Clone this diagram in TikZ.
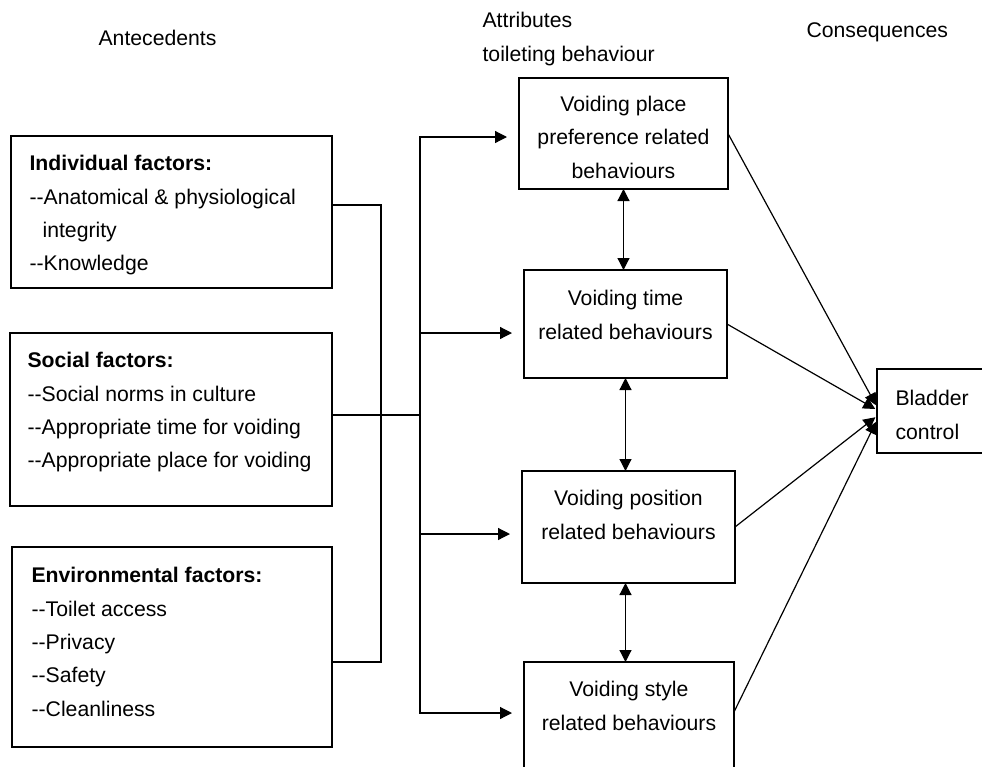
\documentclass[tikz,border=0pt]{standalone}
\usepackage{fontspec}
\newfontfamily\arial{Liberation Sans}
\usetikzlibrary{arrows.meta,positioning}

\begin{document}
\begin{tikzpicture}[
  x=0.5pt,y=-0.5pt,
  line width=0.6pt,
  box/.style={draw,inner sep=0pt,outer sep=0pt},
  txt/.style={inner sep=0pt,font=\arial\fontsize{10.6pt}{16.65pt}\selectfont},
  lft/.style={txt,anchor=north west,align=left},
  ctr/.style={txt,anchor=north,align=center},
  arr/.style={-{Triangle[length=6pt,width=6pt]},shorten >=6pt},
  dbl/.style={{Triangle[length=6pt,width=6pt]}-{Triangle[length=6pt,width=6pt]}}]
\clip (0,0) rectangle (982,767);
% column titles
\node[txt,anchor=base west] (ante) at (98,45) {Antecedents};
\node[lft] (attr) at (482,12) {Attributes\\toileting behaviour};
\node[txt,anchor=base west] (cons) at (806,37) {Consequences};
% antecedents
\node[box,minimum width=160.5pt,minimum height=76pt] (ind) at (171.5,212) {};
\node[box,minimum width=161pt,minimum height=86.5pt] (soc) at (171,419.5) {};
\node[box,minimum width=160pt,minimum height=100pt] (env) at (172,647) {};
\node[lft] (ind-t) at (29,155) {\textbf{Individual factors:}\\--Anatomical \& physiological\\\hspace*{6.5pt}integrity\\--Knowledge};
\node[lft] (soc-t) at (27,352) {\textbf{Social factors:}\\--Social norms in culture\\--Appropriate time for voiding\\--Appropriate place for voiding};
\node[lft] (env-t) at (31,567) {\textbf{Environmental factors:}\\--Toilet access\\--Privacy\\--Safety\\--Cleanliness};
% toileting behaviour
\node[box,minimum width=104.5pt,minimum height=55.5pt] (place) at (623.5,133.5) {};
\node[box,minimum width=101.5pt,minimum height=54pt] (time) at (625.5,324) {};
\node[box,minimum width=106.5pt,minimum height=56pt] (pos) at (628.5,527) {};
\node[box,minimum width=105pt,minimum height=55pt] (sty) at (629,717) {};
\node[ctr] (place-t) at (623.5,95.5) {Voiding place\\preference related\\behaviours};
\node[ctr] (time-t) at (625.5,290) {Voiding time\\related behaviours};
\node[ctr] (pos-t) at (628.5,490) {Voiding position\\related behaviours};
\node[ctr] (sty-t) at (629,681) {Voiding style\\related behaviours};
% consequence
\node[box,minimum width=61.5pt,minimum height=42pt] (bl) at (938.5,411) {};
\node[lft] (bl-t) at (895,390) {Bladder\\control};
% antecedents -> bus
\coordinate (join) at (381,415);
\coordinate (bus) at (420,415);
\draw ([yshift=3.5pt]ind.east) -| (join) |- ([yshift=-7.5pt]env.east);
\draw (soc.east |- bus) -- (bus);
\draw[arr] (bus) |- ([yshift=-1.75pt]place.west);
\draw[arr] (bus) |- ([yshift=-4.5pt]time.west);
\draw[arr] (bus) |- ([yshift=-3.5pt]pos.west);
\draw[arr] (bus) |- ([yshift=2pt]sty.west);
% between behaviours
\draw[dbl] (place.south) -- (place.south |- time.north);
\draw[dbl] (time.south) -- (time.south |- pos.north);
\draw[dbl] ([xshift=-1.5pt]pos.south) -- ([xshift=-1.5pt]pos.south |- sty.north);
% behaviours -> bladder control
\draw[arr,shorten >=1pt] (place.east) -- ([yshift=2pt]bl.west);
\draw[arr,shorten >=1pt] (time.east) -- ([yshift=0.5pt]bl.west);
\draw[arr,shorten >=1pt] (pos.east) -- ([yshift=-2.5pt]bl.west);
\draw[arr,shorten >=1pt] ([yshift=2.5pt]sty.east) -- ([yshift=-4.5pt]bl.west);
\end{tikzpicture}
\end{document}
